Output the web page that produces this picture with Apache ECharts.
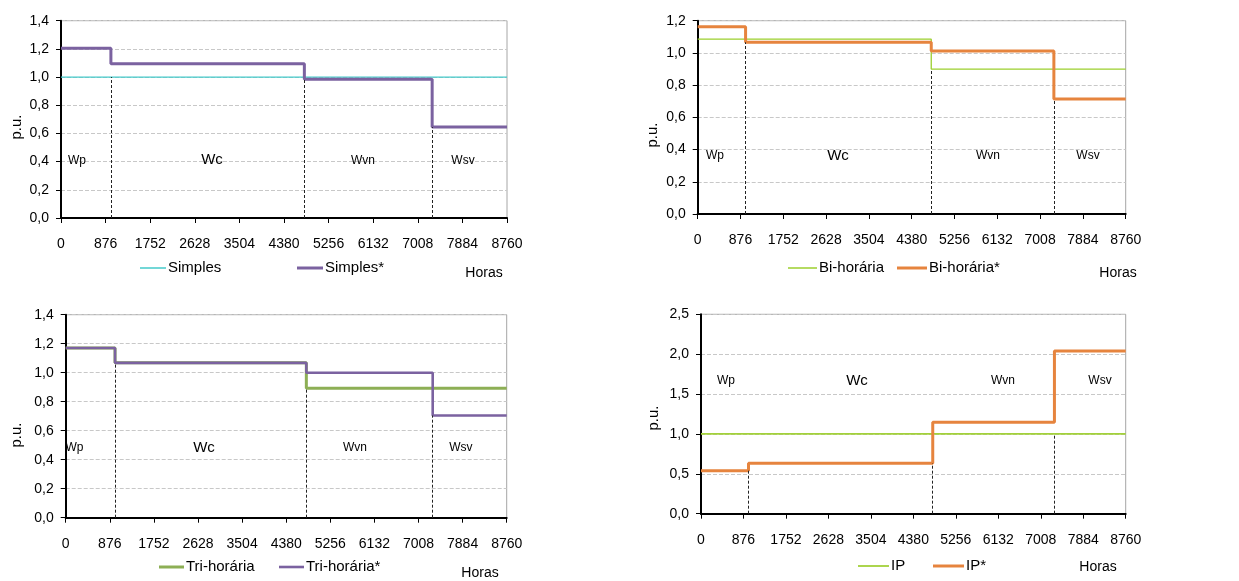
<!DOCTYPE html>
<html>
<head>
<meta charset="utf-8">
<script src="https://cdn.jsdelivr.net/npm/echarts@6/dist/echarts.min.js"></script>
<style>
html,body{margin:0;padding:0;background:#fff;}
#c{width:1239px;height:581px;}
</style>
</head>
<body>
<div id="c"></div>
<script>
// ---- data ----
const hours = [0, 980, 4780, 7290, 8760];
const simples = [1.0, 1.0, 1.0, 1.0];
const simplesStar = [1.205, 1.095, 0.985, 0.645];
const biHoraria = [1.085, 1.085, 0.9, 0.9];
const biHorariaStar = [1.163, 1.066, 1.012, 0.714];
const triHoraria = [1.17, 1.068, 0.893, 0.893];
const triHorariaStar = [1.17, 1.068, 1.0, 0.705];
const ip = [1.0, 1.0, 1.0, 1.0];
const ipStar = [0.54, 0.632, 1.147, 2.04];
const regionNames = ['Wp', 'Wc', 'Wvn', 'Wsv'];
// label anchor positions (hours, p.u.) per chart
const labelHours1 = [314, 2966, 5931, 7896];
const labelHours2 = [354, 2872, 5942, 7989];
const labelHours3 = [175, 2747, 5745, 7850];
const labelHours4 = [516, 3218, 6229, 8230];
const labelY = [0.41, 0.36, 0.48, 1.665];

const FONT = "'Liberation Sans', Arial, sans-serif";
const steps = vals => hours.map((h, i) => [h, vals[Math.min(i, vals.length - 1)]]);
const fmt = v => v.toFixed(1).replace('.', ',');

const charts = [
  {grid:{left:61, top:20.7, width:446, height:197.3}, max:1.4, interval:0.2,
   s:[{name:'Simples', vals:simples, color:'#45CACA', w:1.3},
      {name:'Simples*', vals:simplesStar, color:'#7B62A0', w:3}],
   lh:labelHours1, ly:labelY[0],
   leg:[[140,268,26],[297,268,26]], pu:[17,127], horas:[484,273]},
  {grid:{left:697.7, top:20.7, width:428, height:193.3}, max:1.2, interval:0.2,
   s:[{name:'Bi-horária', vals:biHoraria, color:'#9CCF2E', w:1.3},
      {name:'Bi-horária*', vals:biHorariaStar, color:'#E6843E', w:3}],
   lh:labelHours2, ly:labelY[1],
   leg:[[788,268,29],[897,268,30]], pu:[653,135], horas:[1118,273]},
  {grid:{left:65.7, top:314.7, width:441, height:203}, max:1.4, interval:0.2,
   s:[{name:'Tri-horária', vals:triHoraria, color:'#8DAF55', w:3},
      {name:'Tri-horária*', vals:triHorariaStar, color:'#7B62A0', w:2.6}],
   lh:labelHours3, ly:labelY[2],
   leg:[[159,567,25],[279,567,25]], pu:[17,435], horas:[480,573]},
  {grid:{left:701, top:314.3, width:424.7, height:199.4}, max:2.5, interval:0.5,
   s:[{name:'IP', vals:ip, color:'#A3D13A', w:1.8},
      {name:'IP*', vals:ipStar, color:'#E6843E', w:3}],
   lh:labelHours4, ly:labelY[3],
   leg:[[858,566,31],[933,566,31]], pu:[654,418], horas:[1098,567]}
];

const grid = [], xAxis = [], yAxis = [], series = [], legend = [], graphic = [];
charts.forEach((c, gi) => {
  grid.push(Object.assign({show:true, borderColor:'#a6a6a6', borderWidth:1, backgroundColor:'transparent'}, c.grid));
  xAxis.push({type:'value', gridIndex:gi, min:0, max:8760, interval:876,
    axisLine:{show:true, onZero:false, lineStyle:{color:'#000', width:2}},
    axisTick:{show:true, length:5, lineStyle:{color:'#000', width:1}},
    axisLabel:{color:'#000', fontSize:14, fontFamily:FONT, margin:19, showMaxLabel:true, showMinLabel:true,
      formatter: v => String(v)},
    splitLine:{show:false}});
  yAxis.push({type:'value', gridIndex:gi, min:0, max:c.max, interval:c.interval,
    axisLine:{show:true, lineStyle:{color:'#000', width:2}},
    axisTick:{show:true, length:5, lineStyle:{color:'#000', width:1}},
    axisLabel:{color:'#000', fontSize:14, fontFamily:FONT, margin:12, formatter:fmt},
    splitLine:{show:true, lineStyle:{color:'#c8c8c8', type:'dashed', width:1}}});
  // dashed boundary lines
  const ml = [];
  for (let i = 1; i < hours.length - 1; i++) {
    let m = Infinity;
    c.s.forEach(s => { m = Math.min(m, s.vals[i - 1], s.vals[i]); });
    ml.push([{coord:[hours[i], 0]}, {coord:[hours[i], m]}]);
  }
  const mp = regionNames.map((n, i) => ({name:n, coord:[c.lh[i], c.ly],
    label:{fontSize: n === 'Wc' ? 15 : 12}}));
  c.s.forEach((s, si) => {
    const ser = {type:'line', name:s.name, xAxisIndex:gi, yAxisIndex:gi,
      data:steps(s.vals), step:'end', symbol:'none', showSymbol:false,
      lineStyle:{color:s.color, width:s.w}, itemStyle:{color:s.color},
      z: 2 + si, animation:false};
    if (si === 0) {
      ser.markLine = {silent:true, symbol:['none','none'], animation:false,
        label:{show:false}, lineStyle:{color:'#222', type:[3,2], width:1}, data:ml};
      ser.markPoint = {silent:true, symbol:'circle', symbolSize:0, animation:false,
        label:{show:true, position:'inside', color:'#000', fontFamily:FONT, formatter:'{b}'},
        data:mp};
    }
    series.push(ser);
    const L = c.leg[si];
    const h = Math.max(1.5, s.w);
    legend.push({data:[s.name], left:L[0], top:L[1] - 9, itemWidth:L[2], itemHeight:h,
      icon:'rect', itemGap:0, selectedMode:false, padding:0,
      itemStyle:{color:s.color, borderWidth:0},
      textStyle:{color:'#000', fontSize:15, lineHeight:18, fontFamily:FONT, padding:[0,0,0,-3]}});
  });
  graphic.push({type:'text', x:c.pu[0], y:c.pu[1], rotation:Math.PI/2,
    style:{text:'p.u.', fill:'#000', font:'15px ' + FONT, textAlign:'center', textVerticalAlign:'middle'}});
  graphic.push({type:'text', x:c.horas[0], y:c.horas[1],
    style:{text:'Horas', fill:'#000', font:'14px ' + FONT, textAlign:'center', textVerticalAlign:'middle'}});
});

const chart = echarts.init(document.getElementById('c'), null, {renderer:'canvas'});
chart.setOption({animation:false, backgroundColor:'#fff', textStyle:{fontFamily:FONT},
  grid, xAxis, yAxis, series, legend, graphic});
</script>
</body>
</html>
